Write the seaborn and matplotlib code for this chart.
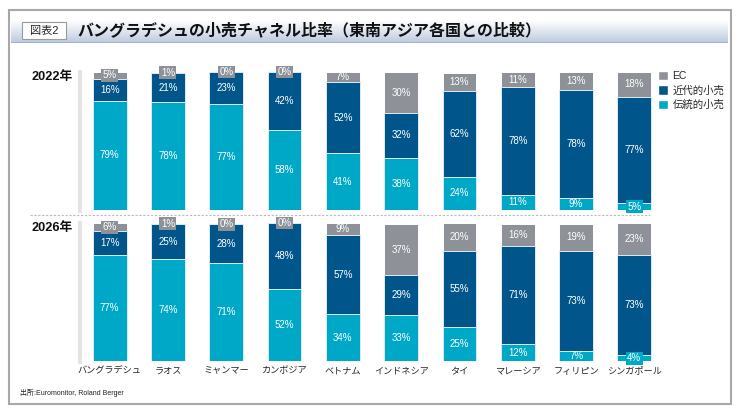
import matplotlib
matplotlib.use("Agg")
import matplotlib.pyplot as plt
import seaborn as sns
import numpy as np
import pandas as pd
from matplotlib.patches import Rectangle, Patch
from matplotlib.lines import Line2D
from matplotlib.colors import LinearSegmentedColormap

# data
countries = ["バングラデシュ", "ラオス", "ミャンマー", "カンボジア", "ベトナム",
             "インドネシア", "タイ", "マレーシア", "フィリピン", "シンガポール"]
years = ["2022年", "2026年"]
ec_2022 = [5, 1, 0, 0, 7, 30, 13, 11, 13, 18]
modern_2022 = [16, 21, 23, 42, 52, 32, 62, 78, 78, 77]
trad_2022 = [79, 78, 77, 58, 41, 38, 24, 11, 9, 5]
ec_2026 = [6, 1, 0, 0, 9, 37, 20, 16, 19, 23]
modern_2026 = [17, 25, 28, 48, 57, 29, 55, 71, 73, 73]
trad_2026 = [77, 74, 71, 52, 34, 33, 25, 12, 7, 4]
series_labels = ["EC", "近代的小売", "伝統的小売"]

title = "バングラデシュの小売チャネル比率（東南アジア各国との比較）"
source = "出所:Euromonitor, Roland Berger"

GRAY = "#8E9298"
BLUE = "#00568A"
CYAN = "#00A8C8"

sns.set_theme(style="white")
plt.rcParams["font.family"] = ["Liberation Sans", "Noto Sans CJK JP", "DejaVu Sans"]

W, H = 740, 411
fig = plt.figure(figsize=(W / 100, H / 100), dpi=100)


def fx(px):
    return px / W


def fy(py):
    return 1 - py / H


# outer frame
fig.patches.append(Rectangle((fx(8.5), fy(403.5)), fx(731) - fx(8.5), (403.5 - 10.5) / H,
                             transform=fig.transFigure, fill=False,
                             edgecolor="#A8A8A8", lw=1.5))

# title band with gradient
axt = fig.add_axes([fx(11), fy(43), fx(728) - fx(11), 23 / H])
cmap = LinearSegmentedColormap.from_list("band", ["#FFFFFF", "#BCCADD"])
axt.imshow(np.linspace(0, 1, 60).reshape(-1, 1), aspect="auto", cmap=cmap,
           extent=[0, 1, 0, 1])
axt.axhline(0.02, color="#9DB0C8", lw=1.2)
axt.set_xlim(0, 1)
axt.set_ylim(0, 1)
axt.axis("off")

fig.patches.append(Rectangle((fx(22), fy(39)), 44 / W, 17 / H, transform=fig.transFigure,
                             facecolor="white", edgecolor="#9A9A9A", lw=0.8, zorder=3))
fig.text(fx(44), fy(30.5), "図表2", ha="center", va="center", fontsize=8, zorder=4)
fig.text(fx(77), fy(30.5), title, ha="left", va="center", fontsize=11.5,
         fontweight="bold", color="#111111")

panels = [
    (years[0], ec_2022, modern_2022, trad_2022, 72, 210),
    (years[1], ec_2026, modern_2026, trad_2026, 223, 361),
]

for k, (year, ec, modern, trad, top, bottom) in enumerate(panels):
    ax = fig.add_axes([fx(80), fy(bottom), 580 / W, (bottom - top) / H])
    df = pd.DataFrame({"country": countries, "ec": ec, "modern": modern, "trad": trad})
    df["total"] = df["ec"] + df["modern"] + df["trad"]
    df["mt"] = df["modern"] + df["trad"]

    sns.barplot(data=df, x="country", y="total", color=GRAY, width=0.58,
                edgecolor="white", linewidth=0.7, saturation=1, ax=ax)
    sns.barplot(data=df, x="country", y="mt", color=BLUE, width=0.58,
                edgecolor="#DDEBF2", linewidth=0.7, saturation=1, ax=ax)
    sns.barplot(data=df, x="country", y="trad", color=CYAN, width=0.58,
                edgecolor="#DDEBF2", linewidth=0.7, saturation=1, ax=ax)

    for i in range(len(countries)):
        segs = [(trad[i], 0, CYAN), (modern[i], trad[i], BLUE),
                (ec[i], trad[i] + modern[i], GRAY)]
        for v, base, col in segs:
            y = base + v / 2
            kw = {}
            if v < 7:
                kw["bbox"] = dict(boxstyle="square,pad=0.15", fc=col, ec="none")
            ax.text(i, y, f"{v}%", ha="center", va="center", color="white",
                    fontsize=7, zorder=5, **kw)

    ax.set_xlim(-0.509, 9.44)
    ax.set_ylim(0, 100)
    ax.set_yticks([])
    ax.set_xlabel("")
    ax.set_ylabel("")
    for s in ax.spines.values():
        s.set_visible(False)
    ax.tick_params(axis="x", length=0, pad=4, labelsize=6.6)
    if k == 0:
        ax.set_xticklabels([])

    # light grey vertical bar at the left of each panel
    fig.patches.append(Rectangle((fx(78), fy(bottom + 3)), 4 / W, (bottom - top + 5) / H,
                                 transform=fig.transFigure, facecolor="#E4E4E4",
                                 edgecolor="none"))
    fig.text(fx(31), fy(top + 5), year, ha="left", va="center", fontsize=9.2,
             fontweight="bold", color="#111111")

# dashed separator between the two years
fig.add_artist(Line2D([fx(30), fx(650)], [fy(215.5), fy(215.5)], transform=fig.transFigure,
                      color="#BBBBBB", lw=0.8, ls=(0, (2, 1.5))))

handles = [Patch(facecolor=c, label=l) for c, l in zip([GRAY, BLUE, CYAN], series_labels)]
fig.legend(handles=handles, loc="upper left", bbox_to_anchor=(fx(658), fy(71)),
           frameon=False, fontsize=7.5, handlelength=1.0, handleheight=1.0,
           handletextpad=0.4, labelspacing=0.4, borderpad=0, borderaxespad=0)

fig.text(fx(20), fy(393), source, ha="left", va="center", fontsize=5, color="#222222")

fig.savefig("out.png", dpi=100)
